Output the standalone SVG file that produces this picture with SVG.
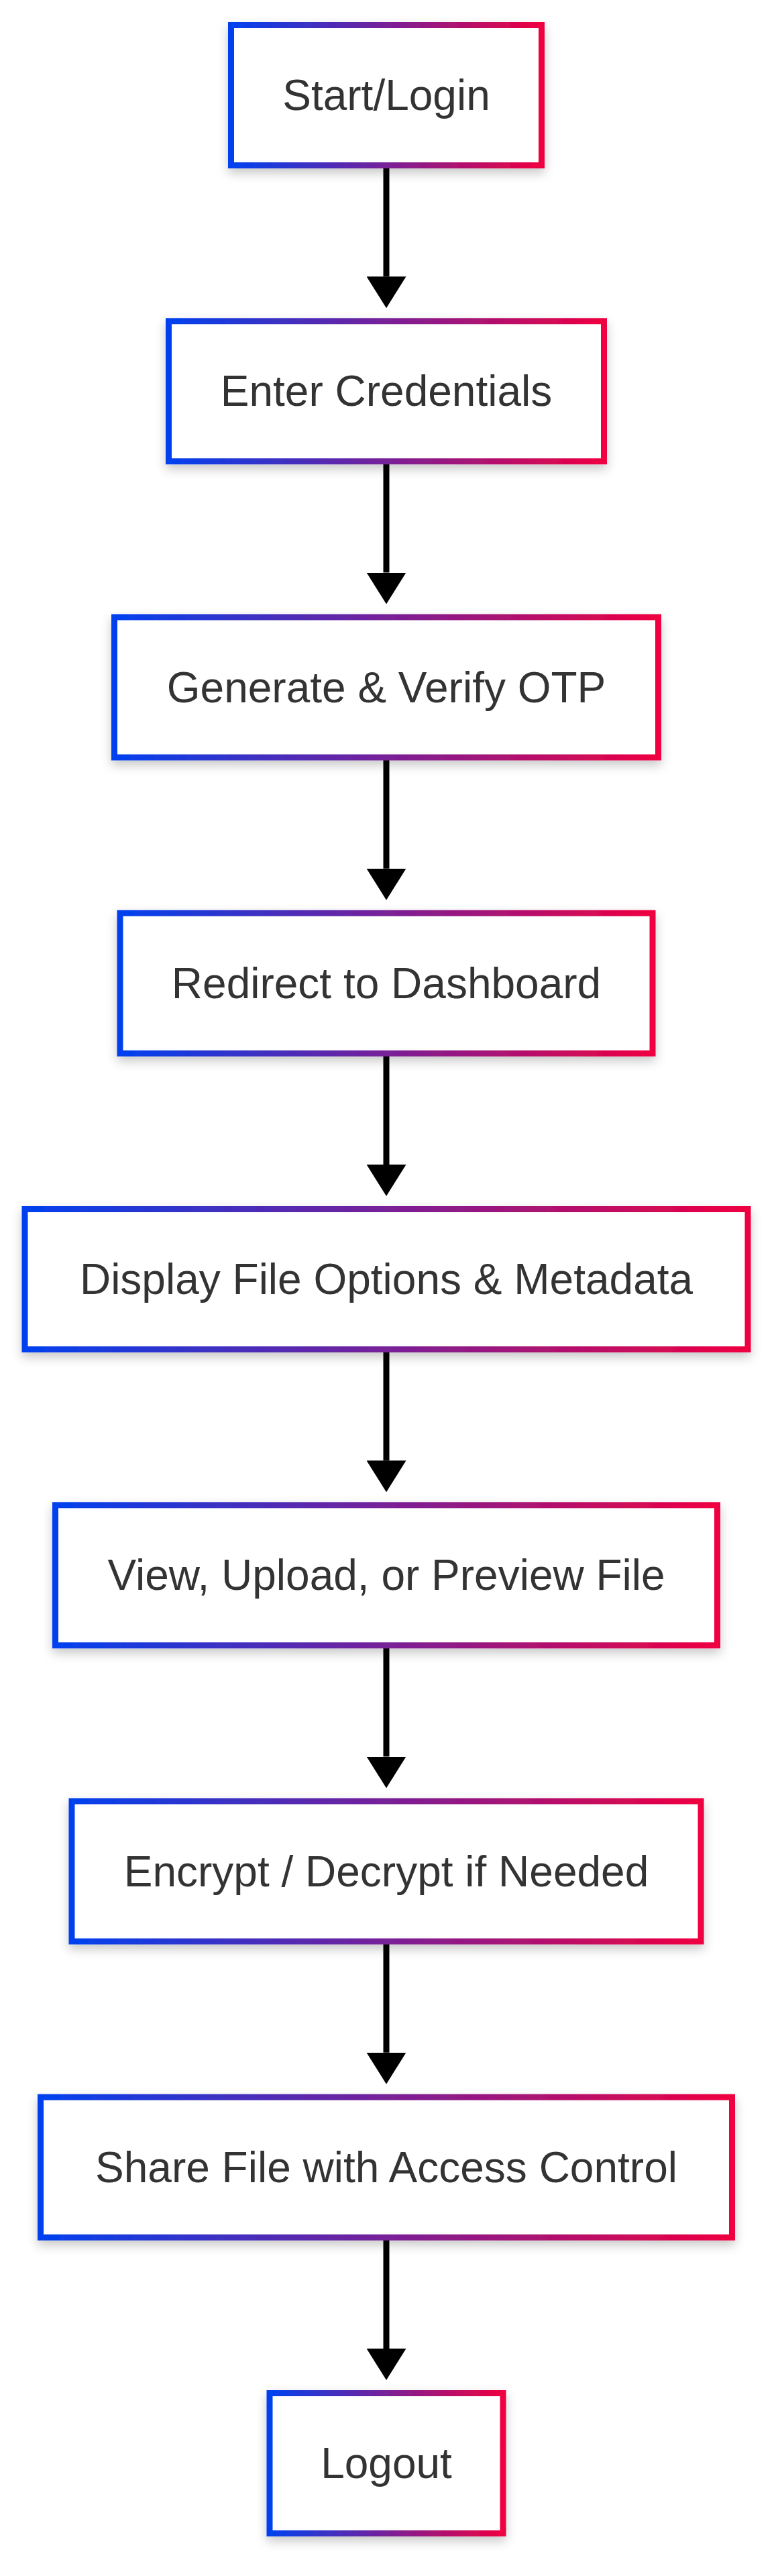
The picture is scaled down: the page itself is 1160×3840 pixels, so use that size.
<svg xmlns="http://www.w3.org/2000/svg" width="1160" height="3840" viewBox="0 0 1160 3840">
<defs>
<linearGradient id="edge" x1="0" y1="0" x2="1" y2="0">
<stop offset="0" stop-color="#0041EF"/>
<stop offset="1" stop-color="#EF0041"/>
</linearGradient>
<filter id="shadow" x="-10%" y="-20%" width="120%" height="150%">
<feDropShadow dx="0" dy="7" stdDeviation="8" flood-color="#000" flood-opacity="0.22"/>
</filter>
<marker id="arrow" viewBox="0 0 47 59" refX="0" refY="29.5" markerWidth="47" markerHeight="59" markerUnits="userSpaceOnUse" orient="auto">
<path d="M0,0 L47,29.5 L0,59 Z" fill="#000"/>
</marker>
</defs>
<style>
.box{fill:#fff;stroke:url(#edge);stroke-width:9;filter:url(#shadow);}
.lbl{font-family:"Liberation Sans",Arial,Helvetica,sans-serif;font-size:64px;fill:#333;text-anchor:middle;}
.conn{stroke:#000;stroke-width:9;fill:none;marker-end:url(#arrow);}
</style>
<rect width="1160" height="3840" fill="#fff"/>
<g id="connectors">
<line class="conn" x1="576" y1="246" x2="576" y2="412.25"/>
<line class="conn" x1="576" y1="687.25" x2="576" y2="853.5"/>
<line class="conn" x1="576" y1="1128.5" x2="576" y2="1294.75"/>
<line class="conn" x1="576" y1="1569.75" x2="576" y2="1736"/>
<line class="conn" x1="576" y1="2011" x2="576" y2="2177.25"/>
<line class="conn" x1="576" y1="2452.25" x2="576" y2="2618.5"/>
<line class="conn" x1="576" y1="2893.5" x2="576" y2="3059.75"/>
<line class="conn" x1="576" y1="3334.75" x2="576" y2="3501"/>
</g>
<g id="start-login">
<rect class="box" x="344.5" y="37.5" width="463" height="209"/>
<text class="lbl" x="576" y="164">Start/Login</text>
</g>
<g id="enter-credentials">
<rect class="box" x="251.5" y="478.75" width="649" height="209"/>
<text class="lbl" x="576" y="605.25">Enter Credentials</text>
</g>
<g id="generate-verify-otp">
<rect class="box" x="170.5" y="920" width="811" height="209"/>
<text class="lbl" x="576" y="1046.5">Generate &amp; Verify OTP</text>
</g>
<g id="redirect-dashboard">
<rect class="box" x="179" y="1361.25" width="794" height="209"/>
<text class="lbl" x="576" y="1487.75">Redirect to Dashboard</text>
</g>
<g id="display-file-options">
<rect class="box" x="37" y="1802.5" width="1078" height="209"/>
<text class="lbl" x="576" y="1929">Display File Options &amp; Metadata</text>
</g>
<g id="view-upload-preview">
<rect class="box" x="82.5" y="2243.75" width="987" height="209"/>
<text class="lbl" x="576" y="2370.25">View, Upload, or Preview File</text>
</g>
<g id="encrypt-decrypt">
<rect class="box" x="107" y="2685" width="938" height="209"/>
<text class="lbl" x="576" y="2811.5">Encrypt / Decrypt if Needed</text>
</g>
<g id="share-file">
<rect class="box" x="60.5" y="3126.25" width="1031" height="209"/>
<text class="lbl" x="576" y="3252.75">Share File with Access Control</text>
</g>
<g id="logout">
<rect class="box" x="402" y="3567.5" width="348" height="209"/>
<text class="lbl" x="576" y="3694">Logout</text>
</g>
</svg>
